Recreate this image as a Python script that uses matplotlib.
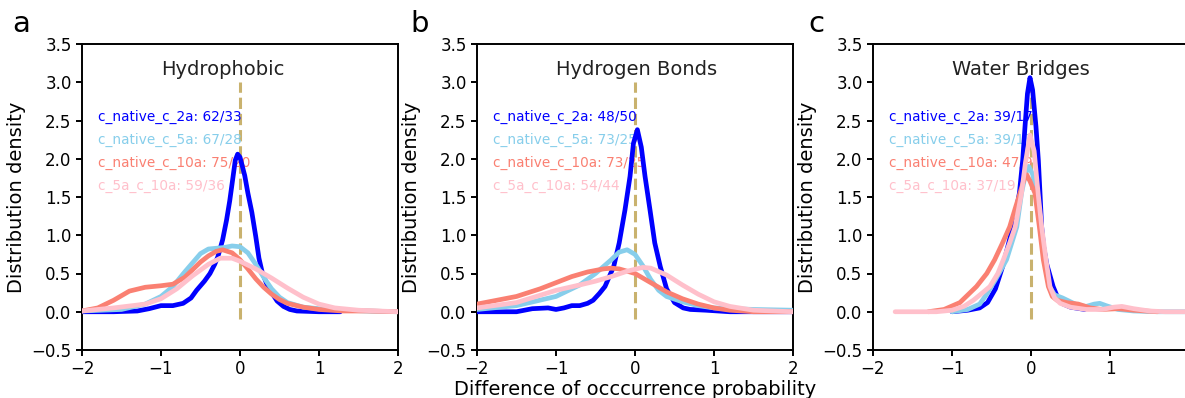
import matplotlib
matplotlib.use('Agg')
import matplotlib.pyplot as plt

plt.rcParams.update({
    'font.family': 'DejaVu Sans',
    'axes.linewidth': 1.4,
    'xtick.major.width': 1.4,
    'ytick.major.width': 1.4,
    'xtick.major.size': 4,
    'ytick.major.size': 4,
    'xtick.labelsize': 12,
    'ytick.labelsize': 12,
})

C_2A = '#0000ff'
C_5A = '#87ceeb'
C_10A = '#fa8072'
C_5A10A = '#ffc0cb'
C_ZERO = '#c9b26e'

series_names = ['c_native_c_2a', 'c_native_c_5a', 'c_native_c_10a', 'c_5a_c_10a']
series_colors = [C_2A, C_5A, C_10A, C_5A10A]
panel_titles = ['Hydrophobic', 'Hydrogen Bonds', 'Water Bridges']
panel_letters = ['a', 'b', 'c']

# counts shown in the in-axes labels
counts_hydrophobic = ['62/33', '67/28', '75/20', '59/36']
counts_hbonds = ['48/50', '73/25', '73/25', '54/44']
counts_water = ['39/17', '39/17', '47/9', '37/19']

# ---------------- (a) Hydrophobic ----------------
a_2a_x = [-2.0, -1.6, -1.3, -1.15, -1.0, -0.85, -0.72, -0.62, -0.55, -0.45, -0.38, -0.32, -0.28,
          -0.22, -0.17, -0.13, -0.09, -0.06, -0.03, 0.0, 0.03, 0.06, 0.1, 0.15, 0.2, 0.24, 0.28,
          0.34, 0.4, 0.47, 0.55, 0.63, 0.72, 1.0, 1.27]
a_2a_y = [0.0, 0.0, 0.01, 0.04, 0.08, 0.08, 0.11, 0.18, 0.28, 0.4, 0.5, 0.62, 0.72,
          0.94, 1.2, 1.45, 1.75, 1.98, 2.06, 2.02, 1.9, 1.78, 1.55, 1.3, 0.98, 0.7, 0.52,
          0.36, 0.25, 0.14, 0.07, 0.03, 0.01, 0.0, 0.0]
a_5a_x = [-2.0, -1.5, -1.2, -1.0, -0.85, -0.7, -0.6, -0.5, -0.4, -0.3, -0.2, -0.1, 0.0, 0.1,
          0.2, 0.3, 0.4, 0.5, 0.6, 0.8, 1.0, 1.3, 1.6, 2.0]
a_5a_y = [0.01, 0.03, 0.1, 0.2, 0.33, 0.52, 0.64, 0.76, 0.82, 0.83, 0.84, 0.86, 0.85, 0.77,
          0.62, 0.45, 0.3, 0.19, 0.12, 0.06, 0.04, 0.02, 0.01, 0.0]
a_10a_x = [-2.0, -1.8, -1.6, -1.4, -1.2, -1.0, -0.85, -0.7, -0.6, -0.5, -0.4, -0.3, -0.22, -0.1,
           0.0, 0.1, 0.2, 0.3, 0.4, 0.5, 0.6, 0.8, 1.0, 1.3, 1.6, 2.0]
a_10a_y = [0.01, 0.05, 0.15, 0.27, 0.32, 0.34, 0.36, 0.45, 0.55, 0.65, 0.73, 0.79, 0.81, 0.77,
           0.68, 0.56, 0.43, 0.32, 0.23, 0.16, 0.11, 0.06, 0.03, 0.01, 0.01, 0.0]
a_5a10a_x = [-2.0, -1.6, -1.2, -1.0, -0.8, -0.6, -0.4, -0.25, -0.1, 0.0, 0.2, 0.4, 0.6, 0.8,
             1.0, 1.2, 1.5, 2.0]
a_5a10a_y = [0.01, 0.05, 0.1, 0.17, 0.3, 0.47, 0.62, 0.7, 0.7, 0.66, 0.56, 0.44, 0.31, 0.19,
             0.1, 0.05, 0.02, 0.0]

# ---------------- (b) Hydrogen Bonds ----------------
b_2a_x = [-2.0, -1.5, -1.3, -1.1, -1.0, -0.9, -0.8, -0.7, -0.6, -0.53, -0.45, -0.38, -0.27,
          -0.2, -0.127, -0.063, -0.02, 0.03, 0.08, 0.127, 0.19, 0.25, 0.32, 0.4, 0.5, 0.61,
          0.7, 0.9, 1.2, 2.0]
b_2a_y = [0.0, 0.0, 0.04, 0.05, 0.03, 0.05, 0.08, 0.08, 0.11, 0.15, 0.24, 0.33, 0.59,
          0.9, 1.33, 1.77, 2.2, 2.38, 2.15, 1.77, 1.33, 0.9, 0.59, 0.3, 0.12, 0.05,
          0.03, 0.02, 0.0, 0.0]
b_5a_x = [-2.0, -1.5, -1.0, -0.7, -0.5, -0.3, -0.2, -0.1, 0.0, 0.1, 0.2, 0.3, 0.4, 0.6,
          0.8, 1.0, 1.5, 2.0]
b_5a_y = [0.03, 0.08, 0.2, 0.35, 0.5, 0.68, 0.78, 0.81, 0.75, 0.6, 0.42, 0.28, 0.2, 0.13,
          0.08, 0.05, 0.03, 0.02]
b_10a_x = [-2.0, -1.5, -1.2, -1.0, -0.8, -0.6, -0.4, -0.3, -0.2, 0.0, 0.2, 0.4, 0.6, 0.8,
           1.0, 1.2, 1.5, 2.0]
b_10a_y = [0.1, 0.2, 0.3, 0.38, 0.46, 0.52, 0.56, 0.57, 0.56, 0.5, 0.38, 0.26, 0.17, 0.1,
           0.05, 0.02, 0.0, 0.0]
b_5a10a_x = [-2.0, -1.5, -1.0, -0.7, -0.5, -0.3, -0.1, 0.1, 0.2, 0.4, 0.6, 0.8, 1.0, 1.2,
             1.5, 2.0]
b_5a10a_y = [0.05, 0.12, 0.28, 0.35, 0.4, 0.46, 0.53, 0.58, 0.57, 0.48, 0.35, 0.23, 0.13, 0.07,
             0.02, 0.0]

# ---------------- (c) Water Bridges ----------------
c_2a_x = [-1.0, -0.8, -0.65, -0.55, -0.45, -0.35, -0.27, -0.2, -0.147, -0.105, -0.076, -0.045,
          -0.013, 0.02, 0.063, 0.093, 0.114, 0.135, 0.16, 0.2, 0.28, 0.34, 0.41, 0.5, 0.62, 0.68]
c_2a_y = [0.0, 0.02, 0.05, 0.12, 0.3, 0.62, 0.95, 1.25, 1.55, 1.98, 2.42, 2.85,
          3.06, 2.9, 2.42, 1.98, 1.55, 1.11, 0.85, 0.62, 0.33, 0.18, 0.1, 0.06, 0.04, 0.03]
c_5a_x = [-1.0, -0.8, -0.65, -0.56, -0.45, -0.31, -0.18, -0.12, -0.07, -0.03, 0.02, 0.08, 0.13,
          0.17, 0.23, 0.3, 0.4, 0.5, 0.6, 0.7, 0.8, 0.87, 0.95, 1.1, 1.3, 1.6, 2.0]
c_5a_y = [0.0, 0.03, 0.1, 0.23, 0.42, 0.68, 1.11, 1.55, 1.8, 1.9, 1.8, 1.55, 1.11,
          0.68, 0.33, 0.22, 0.18, 0.13, 0.08, 0.07, 0.1, 0.11, 0.08, 0.03, 0.01, 0.0, 0.0]
c_10a_x = [-1.3, -1.1, -0.9, -0.69, -0.56, -0.46, -0.36, -0.27, -0.2, -0.14, -0.09, -0.053,
           -0.01, 0.05, 0.106, 0.156, 0.22, 0.27, 0.33, 0.45, 0.6, 0.75, 0.9, 1.1, 1.3, 1.6]
c_10a_y = [0.0, 0.03, 0.12, 0.33, 0.5, 0.68, 0.9, 1.11, 1.35, 1.55, 1.72, 1.79,
           1.7, 1.55, 1.11, 0.68, 0.33, 0.2, 0.15, 0.12, 0.1, 0.05, 0.03, 0.04, 0.02, 0.0]
c_5a10a_x = [-1.72, -1.2, -1.0, -0.85, -0.73, -0.6, -0.52, -0.42, -0.35, -0.27, -0.2, -0.12,
             -0.07, -0.013, 0.04, 0.09, 0.135, 0.19, 0.24, 0.3, 0.37, 0.5, 0.7, 0.9, 1.05,
             1.15, 1.3, 1.5, 1.7, 2.0]
c_5a10a_y = [0.0, 0.0, 0.02, 0.07, 0.15, 0.26, 0.33, 0.5, 0.68, 0.9, 1.11, 1.55,
             1.95, 2.31, 2.1, 1.55, 1.11, 0.68, 0.33, 0.18, 0.11, 0.06, 0.03, 0.03, 0.06,
             0.07, 0.04, 0.01, 0.0, 0.0]

panels = [
    [(a_2a_x, a_2a_y), (a_5a_x, a_5a_y), (a_10a_x, a_10a_y), (a_5a10a_x, a_5a10a_y)],
    [(b_2a_x, b_2a_y), (b_5a_x, b_5a_y), (b_10a_x, b_10a_y), (b_5a10a_x, b_5a10a_y)],
    [(c_2a_x, c_2a_y), (c_5a_x, c_5a_y), (c_10a_x, c_10a_y), (c_5a10a_x, c_5a10a_y)],
]
panel_counts = [counts_hydrophobic, counts_hbonds, counts_water]

W, H = 1185, 398
fig = plt.figure(figsize=(W / 100, H / 100), dpi=100)

lefts = [82, 477, 873]
letter_x = [12, 410, 808]
for i in range(3):
    ax = fig.add_axes([lefts[i] / W, 48 / H, 316 / W, 306 / H])
    ax.plot([0, 0], [-0.1, 3.0], color=C_ZERO, lw=2.2, ls='--', zorder=1)
    for (xs, ys), c in zip(panels[i], series_colors):
        ax.plot(xs, ys, color=c, lw=3.4, solid_joinstyle='round',
                solid_capstyle='round', zorder=3)
    for k, (name, cnt, c) in enumerate(zip(series_names, panel_counts[i], series_colors)):
        ax.text(-1.8, 2.55 - 0.3 * k, f'{name}: {cnt}', color=c, fontsize=9.8,
                ha='left', va='center', zorder=2)
    ax.text(-1.0, 3.17, panel_titles[i], fontsize=14, ha='left', va='center', color='#222222')
    ax.set_xlim(-2, 2)
    ax.set_ylim(-0.5, 3.5)
    # the right edge of panel c falls outside the figure, so its "2" tick is not shown
    ax.set_xticks([-2, -1, 0, 1, 2] if i < 2 else [-2, -1, 0, 1])
    ax.set_yticks([-0.5, 0.0, 0.5, 1.0, 1.5, 2.0, 2.5, 3.0, 3.5])
    ax.set_ylabel('Distribution density', fontsize=14)
    if i == 1:
        ax.set_xlabel('Difference of occcurrence probability', fontsize=14, labelpad=1)
    fig.text(letter_x[i] / W, 1 - 32 / H, panel_letters[i], fontsize=21,
             ha='left', va='baseline')

fig.savefig('out.png', dpi=100)
